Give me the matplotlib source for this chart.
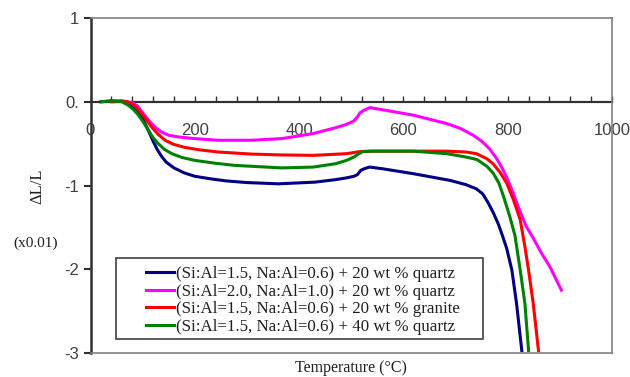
import matplotlib
matplotlib.use("Agg")
import matplotlib.pyplot as plt
from matplotlib.ticker import MultipleLocator, FixedLocator
from matplotlib.patches import Rectangle

# ---- data ----
blue_x = [20, 40, 60, 70, 80, 90, 100, 110, 120, 128, 136, 145, 160, 180, 200, 230, 260, 300, 360, 430, 470, 490, 505, 512, 518, 525, 535, 560, 620, 690, 720, 740, 752, 762, 772, 782, 790, 798, 808, 817, 827]
blue_y = [0, 0.01, 0.005, -0.01, -0.04, -0.10, -0.20, -0.33, -0.47, -0.57, -0.65, -0.72, -0.79, -0.85, -0.89, -0.92, -0.945, -0.965, -0.98, -0.96, -0.93, -0.91, -0.89, -0.87, -0.82, -0.80, -0.78, -0.80, -0.86, -0.94, -0.99, -1.04, -1.10, -1.20, -1.32, -1.46, -1.60, -1.75, -2.01, -2.41, -2.97]

mag_x = [45, 66, 80, 90, 101, 110, 117, 127, 136, 150, 168, 200, 245, 309, 367, 427, 470, 491, 505, 512, 517, 525, 536, 555, 619, 683, 710, 734, 750, 765, 779, 790, 800, 810, 820, 835, 850, 865, 881, 903]
mag_y = [0, 0.005, -0.01, -0.05, -0.14, -0.21, -0.26, -0.32, -0.36, -0.40, -0.42, -0.44, -0.46, -0.46, -0.44, -0.38, -0.31, -0.27, -0.23, -0.18, -0.13, -0.10, -0.07, -0.09, -0.16, -0.26, -0.32, -0.40, -0.47, -0.56, -0.68, -0.80, -0.93, -1.08, -1.25, -1.48, -1.64, -1.81, -1.97, -2.25]

red_x = [40, 60, 70, 79, 88, 98, 108, 117, 130, 143, 160, 181, 210, 245, 309, 367, 427, 491, 517, 540, 619, 683, 720, 740, 760, 772, 785, 798, 811, 824, 833, 840, 849, 859]
red_y = [0, 0.01, 0, -0.02, -0.07, -0.14, -0.22, -0.30, -0.39, -0.46, -0.51, -0.545, -0.575, -0.60, -0.625, -0.635, -0.64, -0.62, -0.595, -0.59, -0.59, -0.59, -0.60, -0.62, -0.68, -0.74, -0.84, -0.97, -1.17, -1.41, -1.73, -2.01, -2.41, -2.97]

green_x = [21, 40, 60, 72, 82, 92, 101, 111, 120, 130, 142, 156, 175, 200, 240, 277, 367, 427, 470, 491, 505, 515, 522, 540, 619, 683, 720, 741, 760, 772, 783, 792, 804, 814, 824, 833, 840]
green_y = [0, 0.01, 0, -0.04, -0.09, -0.16, -0.24, -0.34, -0.43, -0.50, -0.57, -0.62, -0.665, -0.70, -0.735, -0.76, -0.79, -0.78, -0.74, -0.70, -0.66, -0.62, -0.595, -0.59, -0.59, -0.62, -0.66, -0.69, -0.77, -0.85, -0.97, -1.13, -1.37, -1.60, -2.01, -2.41, -2.97]

labels = [
    "(Si:Al=1.5, Na:Al=0.6) + 20 wt % quartz",
    "(Si:Al=2.0, Na:Al=1.0) + 20 wt % quartz",
    "(Si:Al=1.5, Na:Al=0.6) + 20 wt % granite",
    "(Si:Al=1.5, Na:Al=0.6) + 40 wt % quartz",
]
colors = ["#000080", "#FF00FF", "#FF0000", "#008000"]
x_tick_vals = [0, 200, 400, 600, 800, 1000]
y_tick_vals = [1, 0, -1, -2, -3]
y_tick_labels = ["1", "0.", "-1", "-2", "-3"]

# ---- figure ----
W, H = 630, 377
fig = plt.figure(figsize=(6.3, 3.77), dpi=100)
L, R, T, B = 90.5, 612, 18, 353
ax = fig.add_axes([L / W, 1 - B / H, (R - L) / W, (B - T) / H])

series = [(blue_x, blue_y), (mag_x, mag_y), (red_x, red_y), (green_x, green_y)]
for (xs, ys), c, lab in zip(series, colors, labels):
    ax.plot(xs, ys, color=c, lw=2.2, label=lab, solid_joinstyle="round")

ax.set_xlim(0, 1000)
ax.set_ylim(-3, 1)

tick_color = "#404040"
ax.xaxis.set_visible(False)
for s in ["top", "right", "bottom"]:
    ax.spines[s].set_color("#808080")
    ax.spines[s].set_linewidth(1.2)
ax.spines["left"].set_color("#303030")
ax.spines["left"].set_linewidth(1.8)

ax.yaxis.set_major_locator(FixedLocator(y_tick_vals))
ax.set_yticklabels(y_tick_labels)
ax.tick_params(axis="y", direction="out", length=5, width=1.5, color="#303030",
               labelsize=12, labelcolor=tick_color, pad=3)
for t in ax.get_yticklabels():
    t.set_family("Liberation Sans")

# x-axis drawn at y = 0
sec = ax.secondary_xaxis(0.75)
for s in ["top", "bottom"]:
    sec.spines[s].set_visible(True)
    sec.spines[s].set_color("#303030")
    sec.spines[s].set_linewidth(1.5)
sec.xaxis.set_major_locator(FixedLocator(x_tick_vals))
sec.xaxis.set_minor_locator(MultipleLocator(40))
sec.tick_params(axis="x", which="both", bottom=True, top=False, labelbottom=True, labeltop=False,
                direction="in", length=4, width=1.0, color="#303030")
sec.tick_params(axis="x", which="major", labelsize=12, labelcolor=tick_color, pad=15)
for t in sec.get_xticklabels():
    t.set_family("Liberation Sans")

# axis titles
fig.text(37 / W, 1 - 186 / H, "\u0394L/L", rotation=90, ha="center", va="center",
         family="Liberation Serif", fontsize=12, color="#202020")
fig.text(36 / W, 1 - 243 / H, "(x0.01)", ha="center", va="center",
         family="Liberation Serif", fontsize=11, color="#202020")
fig.text(351 / W, 1 - 368 / H, "Temperature (\u00b0C)", ha="center", va="center",
         family="Liberation Serif", fontsize=11.5, color="#202020")

# legend box
bx0, bx1, by0, by1 = 116, 483, 258, 339
fig.add_artist(Rectangle((bx0 / W, 1 - by1 / H), (bx1 - bx0) / W, (by1 - by0) / H,
                         transform=fig.transFigure, fill=True, facecolor="white",
                         edgecolor="#404040", lw=1.2, zorder=4))
leg = fig.legend(loc="upper left", bbox_to_anchor=(146 / W, 1 - 266 / H),
                 prop={"family": "Liberation Serif", "size": 12.2},
                 handlelength=1.65, handletextpad=0.1, labelspacing=0.1,
                 borderpad=0.0, borderaxespad=0, frameon=False)
leg.set_zorder(5)
for t in leg.get_texts():
    t.set_color("#202020")

fig.savefig("out.png", dpi=100)
